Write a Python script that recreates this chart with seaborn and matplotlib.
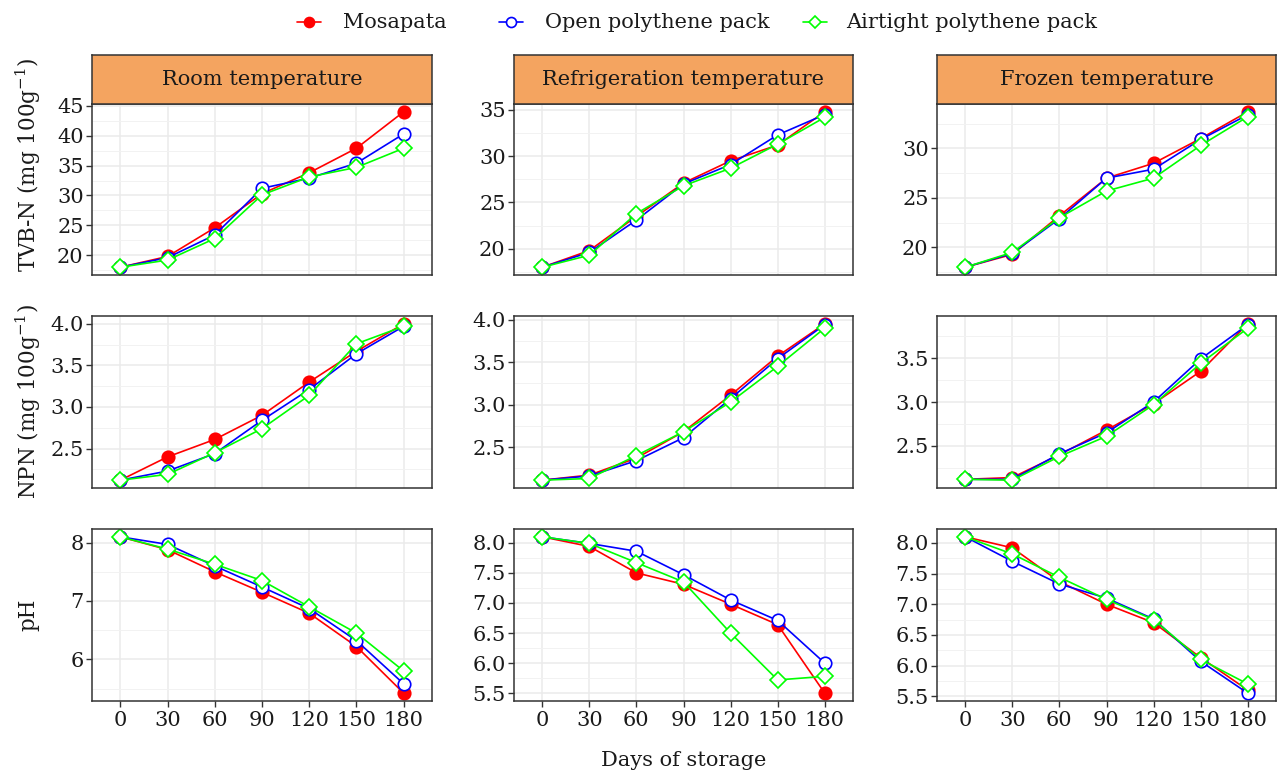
import matplotlib
matplotlib.use("Agg")
import matplotlib.pyplot as plt
import seaborn as sns
import pandas as pd
from matplotlib.ticker import MultipleLocator
from matplotlib.lines import Line2D

sns.set_theme(style="white")
plt.rcParams['font.family'] = ['DejaVu Serif']
plt.rcParams['mathtext.fontset'] = 'dejavuserif'

days = [0, 30, 60, 90, 120, 150, 180]
temps = ["Room temperature", "Refrigeration temperature", "Frozen temperature"]
packs = ["Mosapata", "Open polythene pack", "Airtight polythene pack"]

# TVB-N (mg 100g-1)
tvbn_room = {"Mosapata": [18.0, 19.8, 24.6, 30.3, 33.8, 37.9, 44.0],
             "Open polythene pack": [18.0, 19.6, 23.4, 31.2, 32.9, 35.4, 40.3],
             "Airtight polythene pack": [18.0, 19.2, 22.8, 30.1, 33.1, 34.7, 37.9]}
tvbn_refr = {"Mosapata": [18.0, 19.8, 23.5, 27.1, 29.5, 31.2, 34.8],
             "Open polythene pack": [18.0, 19.6, 23.1, 27.0, 29.1, 32.3, 34.5],
             "Airtight polythene pack": [18.0, 19.3, 23.8, 26.8, 28.7, 31.3, 34.2]}
tvbn_froz = {"Mosapata": [18.0, 19.3, 23.2, 27.0, 28.5, 31.0, 33.7],
             "Open polythene pack": [18.0, 19.4, 22.9, 27.0, 27.9, 30.9, 33.4],
             "Airtight polythene pack": [18.0, 19.5, 23.0, 25.7, 27.0, 30.3, 33.2]}

# NPN (mg 100g-1)
npn_room = {"Mosapata": [2.12, 2.40, 2.61, 2.90, 3.30, 3.67, 4.00],
            "Open polythene pack": [2.12, 2.23, 2.44, 2.84, 3.21, 3.64, 3.97],
            "Airtight polythene pack": [2.12, 2.19, 2.45, 2.74, 3.14, 3.76, 3.97]}
npn_refr = {"Mosapata": [2.11, 2.17, 2.37, 2.68, 3.11, 3.57, 3.95],
            "Open polythene pack": [2.11, 2.16, 2.34, 2.61, 3.07, 3.54, 3.94],
            "Airtight polythene pack": [2.11, 2.13, 2.40, 2.68, 3.03, 3.45, 3.90]}
npn_froz = {"Mosapata": [2.12, 2.14, 2.40, 2.68, 2.98, 3.35, 3.89],
            "Open polythene pack": [2.12, 2.12, 2.41, 2.65, 3.00, 3.49, 3.88],
            "Airtight polythene pack": [2.12, 2.11, 2.38, 2.61, 2.97, 3.44, 3.84]}

# pH
ph_room = {"Mosapata": [8.10, 7.88, 7.50, 7.15, 6.79, 6.22, 5.42],
           "Open polythene pack": [8.10, 7.97, 7.60, 7.24, 6.87, 6.32, 5.58],
           "Airtight polythene pack": [8.10, 7.89, 7.63, 7.35, 6.90, 6.45, 5.80]}
ph_refr = {"Mosapata": [8.10, 7.94, 7.50, 7.31, 6.98, 6.64, 5.50],
           "Open polythene pack": [8.10, 7.99, 7.86, 7.47, 7.05, 6.71, 6.00],
           "Airtight polythene pack": [8.10, 7.99, 7.67, 7.35, 6.50, 5.72, 5.78]}
ph_froz = {"Mosapata": [8.10, 7.92, 7.37, 7.00, 6.70, 6.13, 5.60],
           "Open polythene pack": [8.10, 7.70, 7.33, 7.10, 6.76, 6.07, 5.55],
           "Airtight polythene pack": [8.10, 7.82, 7.44, 7.08, 6.75, 6.10, 5.70]}

rows = [
    (r"TVB-N (mg 100g$^{-1}$)", [tvbn_room, tvbn_refr, tvbn_froz], [5, 5, 5]),
    (r"NPN (mg 100g$^{-1}$)", [npn_room, npn_refr, npn_froz], [0.5, 0.5, 0.5]),
    ("pH", [ph_room, ph_refr, ph_froz], [1, 0.5, 0.5]),
]

styles = {
    "Mosapata": dict(color="red", marker="o", markerfacecolor="red", markeredgecolor="red", markersize=9),
    "Open polythene pack": dict(color="blue", marker="o", markerfacecolor="white", markeredgecolor="blue", markersize=9),
    "Airtight polythene pack": dict(color="#00FF00", marker="D", markerfacecolor="white", markeredgecolor="#00FF00", markersize=8),
}

W, H = 1277, 776
fig = plt.figure(figsize=(W / 100, H / 100), dpi=100)


def px_axes(left, top, right, bottom):
    return fig.add_axes([left / W, 1 - bottom / H, (right - left) / W, (bottom - top) / H])


col_x = [(92, 432), (514, 853), (937, 1276)]
row_y = [(104, 275), (316, 488), (529, 701)]
dark = "#333333"
txt = "#1a1a1a"
fs = 15

for r, (ylabel, panels, step) in enumerate(rows):
    for c, panel in enumerate(panels):
        l, rr = col_x[c]
        t, b = row_y[r]
        ax = px_axes(l, t, rr, b)
        df = pd.DataFrame([(d, p, v) for p in packs for d, v in zip(days, panel[p])],
                          columns=["day", "pack", "value"])
        for p in packs:
            sns.lineplot(data=df[df["pack"] == p], x="day", y="value", ax=ax,
                         linewidth=1.2, markeredgewidth=1.2, legend=False, **styles[p])
        ax.set_xlim(-18, 198)
        ax.set_xlabel("")
        ax.set_ylabel("")
        ax.yaxis.set_major_locator(MultipleLocator(step[c]))
        ax.yaxis.set_minor_locator(MultipleLocator(step[c] / 2))
        ax.set_xticks(days)
        ax.grid(True, which="major", color="#EBEBEB", linewidth=1.1)
        ax.grid(True, which="minor", axis="y", color="#F2F2F2", linewidth=0.7)
        ax.set_axisbelow(True)
        for s in ax.spines.values():
            s.set_color(dark)
            s.set_linewidth(1.1)
        ax.tick_params(axis="y", which="major", left=True, length=4, width=1, color=dark,
                       labelsize=fs, labelcolor=txt, pad=2)
        ax.tick_params(axis="y", which="minor", left=False)
        if r == 2:
            ax.tick_params(axis="x", bottom=True, length=4, width=1, color=dark,
                           labelsize=fs, labelcolor=txt, pad=3)
        else:
            ax.tick_params(axis="x", bottom=False, labelbottom=False)
        if r == 0:
            sax = px_axes(l, 55, rr, 104)
            sax.set_facecolor("#F4A460")
            sax.set_xticks([])
            sax.set_yticks([])
            for s in sax.spines.values():
                s.set_color(dark)
                s.set_linewidth(1.1)
            sax.text(0.5, 0.5, temps[c], ha="center", va="center", fontsize=fs,
                     color=txt, transform=sax.transAxes)
    yc = (55 + 275) / 2 if r == 0 else (row_y[r][0] + row_y[r][1]) / 2
    fig.text(28 / W, 1 - yc / H, ylabel, rotation=90, ha="center", va="center",
             fontsize=15.5, color=txt)

fig.text(684 / W, 1 - 761 / H, "Days of storage", ha="center", va="center",
         fontsize=fs, color=txt)

# legend keys placed by hand to follow the reference spacing
key_x = [309, 511, 815]
text_x = [343, 545, 846]
ly = 1 - 22 / H
for p, kx, tx in zip(packs, key_x, text_x):
    st = dict(styles[p])
    st["markersize"] = st["markersize"] * 0.8
    fig.add_artist(Line2D([(kx - 12) / W, (kx + 12) / W], [ly, ly], transform=fig.transFigure,
                          linewidth=1.2, color=st["color"]))
    fig.add_artist(Line2D([kx / W], [ly], transform=fig.transFigure, linestyle="none",
                          markeredgewidth=1.2, **{k: v for k, v in st.items() if k != "color"}))
    fig.text(tx / W, ly, p, ha="left", va="center", fontsize=fs, color=txt)

fig.savefig("out.png", dpi=100)
